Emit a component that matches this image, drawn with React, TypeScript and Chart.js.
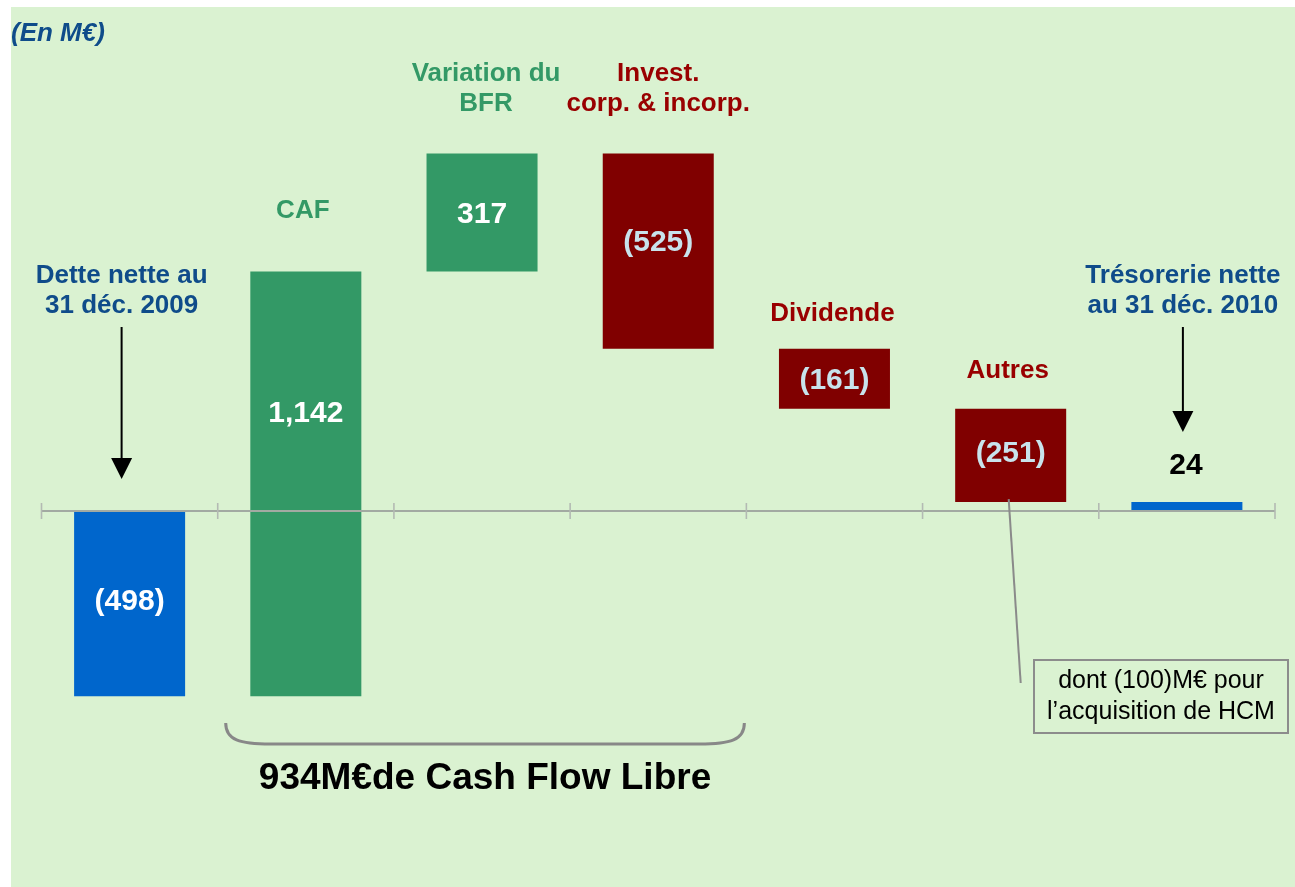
import React, { useEffect, useRef } from "react";
import { Chart, registerables } from "chart.js";

Chart.register(...registerables);

// ---- data ----
const categories: string[][] = [
  ["Dette nette au", "31 déc. 2009"],
  ["CAF"],
  ["Variation du", "BFR"],
  ["Invest.", "corp. & incorp."],
  ["Dividende"],
  ["Autres"],
  ["Trésorerie nette", "au 31 déc. 2010"],
];
const values = [-498, 1142, 317, -525, -161, -251, 24];
const kinds = ["total", "delta", "delta", "delta", "delta", "delta", "total"];
const valueLabels = ["(498)", "1,142", "317", "(525)", "(161)", "(251)", "24"];
const unitLabel = "(En M€)";
const freeCashFlowLabel = "934M€de Cash Flow Libre";
const noteLines = ["dont (100)M€ pour", "l’acquisition de HCM"];
const yMin = -900;
const yMax = 1250;

// ---- styles ----
const PX_PER_UNIT = 0.372;
const BG = "#DAF2D1";
const BLUE = "#0066CC";
const GREEN = "#339966";
const DARKRED = "#800000";
const TXT_BLUE = "#0F4C8A";
const TXT_RED = "#990000";
const LIGHT = "#C8E3EC";
const FONT = "'Liberation Sans', Arial, sans-serif";

function buildRanges(): [number, number][] {
  let run = 0;
  return values.map((v, i) => {
    if (kinds[i] === "total") {
      run = v;
      return [0, v] as [number, number];
    }
    const r: [number, number] = [run, run + v];
    run += v;
    return r;
  });
}

function barColor(i: number): string {
  if (kinds[i] === "total") return BLUE;
  return values[i] >= 0 ? GREEN : DARKRED;
}

function titleColor(i: number): string {
  if (kinds[i] === "total") return TXT_BLUE;
  return values[i] >= 0 ? GREEN : TXT_RED;
}

function valueColor(i: number): string {
  if (i === values.length - 1) return "#000000";
  if (kinds[i] === "total") return "#FFFFFF";
  return values[i] >= 0 ? "#FFFFFF" : LIGHT;
}

function arrow(ctx: CanvasRenderingContext2D, x: number, y1: number, tip: number) {
  const headH = 21;
  ctx.save();
  ctx.strokeStyle = "#000";
  ctx.fillStyle = "#000";
  ctx.lineWidth = 2;
  ctx.beginPath();
  ctx.moveTo(x, y1);
  ctx.lineTo(x, tip - headH + 2);
  ctx.stroke();
  ctx.beginPath();
  ctx.moveTo(x - 10.5, tip - headH);
  ctx.lineTo(x + 10.5, tip - headH);
  ctx.lineTo(x, tip);
  ctx.closePath();
  ctx.fill();
  ctx.restore();
}

const bgPlugin = {
  id: "bgPlugin",
  beforeDraw(chart: any) {
    const ctx = chart.ctx as CanvasRenderingContext2D;
    ctx.save();
    ctx.fillStyle = "#FFFFFF";
    ctx.fillRect(0, 0, chart.width, chart.height);
    ctx.fillStyle = BG;
    ctx.fillRect(11, 7, chart.width - 11, chart.height - 7);
    ctx.restore();
  },
};

const annotPlugin = {
  id: "annotPlugin",
  afterDatasetsDraw(chart: any) {
    const ctx = chart.ctx as CanvasRenderingContext2D;
    const xs = chart.scales.x;
    const ys = chart.scales.y;
    const area = chart.chartArea;
    const meta = chart.getDatasetMeta(0);
    const y0 = ys.getPixelForValue(0);
    const n = categories.length;
    const catW = (area.right - area.left) / n;

    // axis line and tick marks
    ctx.save();
    ctx.strokeStyle = "#A2AAA2";
    ctx.lineWidth = 2;
    ctx.beginPath();
    ctx.moveTo(area.left, y0);
    ctx.lineTo(area.right, y0);
    ctx.stroke();
    ctx.strokeStyle = "#B3BAB3";
    ctx.lineWidth = 1.6;
    for (let i = 0; i <= n; i++) {
      const px = i < n ? xs.getPixelForValue(i) - catW / 2 : xs.getPixelForValue(n - 1) + catW / 2;
      ctx.beginPath();
      ctx.moveTo(px, y0 - 8);
      ctx.lineTo(px, y0 + 8);
      ctx.stroke();
    }
    ctx.restore();

    const ranges = buildRanges();
    ctx.save();
    ctx.textAlign = "center";
    ctx.textBaseline = "middle";

    // category titles
    ctx.font = `bold 26px ${FONT}`;
    const titleDx = [-8, -3, 4, 0, -2, -3, -4];
    meta.data.forEach((bar: any, i: number) => {
      const top = ys.getPixelForValue(Math.max(ranges[i][0], ranges[i][1]));
      const lines = categories[i];
      const lh = 30;
      let lastY: number;
      if (i === 0 || i === n - 1) {
        lastY = 306;
      } else if (i === 1) {
        lastY = top - 61;
      } else if (i === 2 || i === 3) {
        lastY = top - 50;
      } else if (i === 4) {
        lastY = top - 35;
      } else {
        lastY = top - 38;
      }
      ctx.fillStyle = titleColor(i);
      lines.forEach((ln, k) => {
        ctx.fillText(ln, bar.x + titleDx[i], lastY - (lines.length - 1 - k) * lh);
      });
    });

    // arrows for totals
    const b0 = meta.data[0];
    arrow(ctx, b0.x - 8, 327, y0 - 32);
    const bl = meta.data[n - 1];
    arrow(ctx, bl.x - 4, 327, 432);

    // value labels
    ctx.font = `bold 30px ${FONT}`;
    meta.data.forEach((bar: any, i: number) => {
      const [a, b] = ranges[i];
      const hi = Math.max(a, b);
      const lo = Math.min(a, b);
      let y: number;
      if (i === n - 1) {
        y = ys.getPixelForValue(hi) - 38;
      } else if (i === 1) {
        y = ys.getPixelForValue(hi - (hi - lo) * 0.33);
      } else if (i === 3) {
        y = ys.getPixelForValue((hi + lo) / 2) - 10;
      } else if (i === 0 || i === 5) {
        y = ys.getPixelForValue((hi + lo) / 2) - 4;
      } else {
        y = ys.getPixelForValue((hi + lo) / 2);
      }
      ctx.fillStyle = valueColor(i);
      ctx.fillText(valueLabels[i], bar.x + (i === n - 1 ? -1 : 0), y + 2);
    });

    // unit label
    ctx.textAlign = "left";
    ctx.fillStyle = TXT_BLUE;
    ctx.font = `italic bold 26px ${FONT}`;
    ctx.fillText(unitLabel, 11, 34);

    // brace under CAF..Invest
    const bx1 = xs.getPixelForValue(1) - catW / 2 + 8;
    const bx2 = xs.getPixelForValue(3) + catW / 2 - 2;
    const byTop = 723;
    const byBot = 744;
    ctx.strokeStyle = "#888888";
    ctx.lineWidth = 3;
    ctx.beginPath();
    ctx.moveTo(bx1, byTop);
    ctx.bezierCurveTo(bx1, byBot - 4, bx1 + 14, byBot, bx1 + 45, byBot);
    ctx.lineTo(bx2 - 45, byBot);
    ctx.bezierCurveTo(bx2 - 14, byBot, bx2, byBot - 4, bx2, byTop);
    ctx.stroke();

    ctx.textAlign = "center";
    ctx.fillStyle = "#000000";
    ctx.font = `bold 37px ${FONT}`;
    ctx.fillText(freeCashFlowLabel, (bx1 + bx2) / 2, 779);

    // callout for "Autres"
    const b5 = meta.data[5];
    const b5bottom = ys.getPixelForValue(Math.min(ranges[5][0], ranges[5][1]));
    ctx.strokeStyle = "#8A8A8A";
    ctx.lineWidth = 2;
    ctx.beginPath();
    ctx.moveTo(b5.x - 2, b5bottom - 3);
    ctx.lineTo(b5.x + 10, 683);
    ctx.stroke();

    ctx.strokeStyle = "#8C8C8C";
    ctx.lineWidth = 2;
    ctx.strokeRect(1034, 660, 254, 73);
    ctx.fillStyle = "#000000";
    ctx.font = `25px ${FONT}`;
    ctx.fillText(noteLines[0], 1161, 681);
    ctx.fillText(noteLines[1], 1161, 712);

    ctx.restore();
  },
};

export default function App() {
  const ref = useRef<HTMLCanvasElement | null>(null);

  useEffect(() => {
    if (!ref.current) return;
    const ranges = buildRanges();
    const chart = new Chart(ref.current, {
      type: "bar",
      data: {
        labels: categories.map((c) => c.join(" ")),
        datasets: [
          {
            data: ranges as any,
            backgroundColor: values.map((_, i) => barColor(i)),
            borderWidth: 0,
            barPercentage: 0.63,
            categoryPercentage: 1,
          },
        ],
      },
      options: {
        responsive: false,
        animation: false,
        layout: {
          padding: {
            left: 41.5,
            right: 20,
            top: 511 - yMax * PX_PER_UNIT,
            bottom: 887 - (511 - yMin * PX_PER_UNIT),
          },
        },
        plugins: {
          legend: { display: false },
          tooltip: { enabled: false },
          title: { display: false },
        },
        scales: {
          x: { display: false, offset: true },
          y: { display: false, min: yMin, max: yMax },
        },
      },
      plugins: [bgPlugin, annotPlugin],
    });
    return () => chart.destroy();
  }, []);

  return (
    <div style={{ position: "absolute", left: 0, top: 0, width: 1295, height: 887, overflow: "hidden" }}>
      <canvas ref={ref} width={1295} height={887} style={{ display: "block" }} />
    </div>
  );
}
